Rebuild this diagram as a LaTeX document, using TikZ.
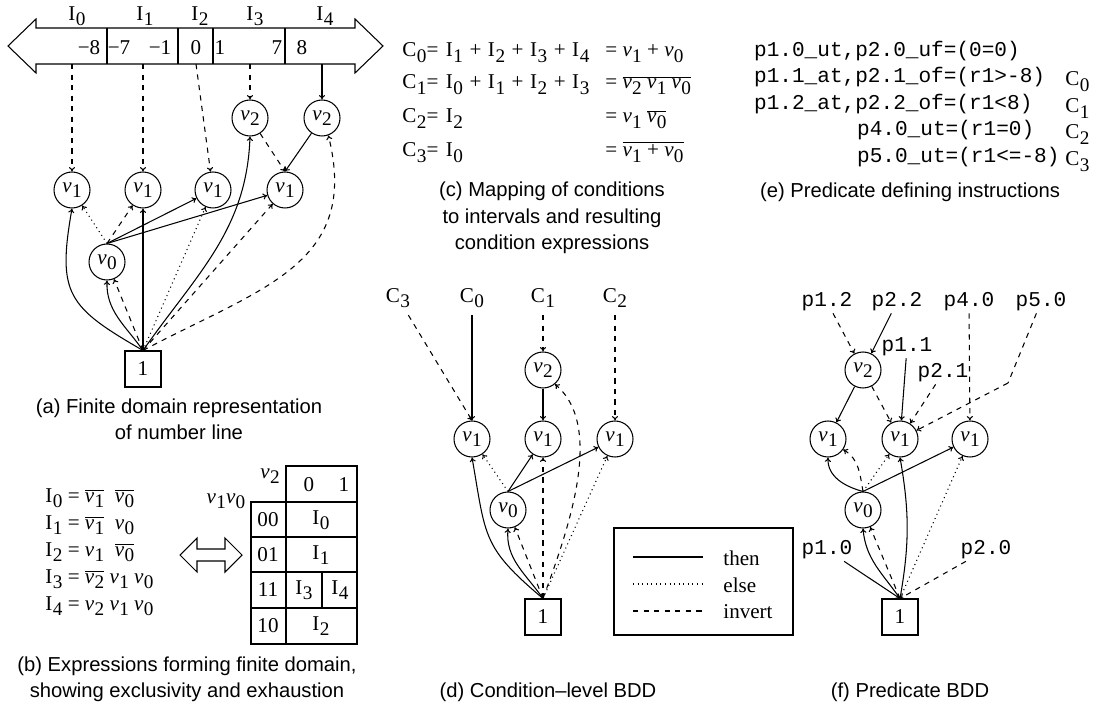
\documentclass[12pt,tikz,border=0pt]{standalone}
\usepackage{fontspec}
\setmainfont{Liberation Serif}
\setsansfont{Liberation Sans}
\setmonofont{Liberation Mono}
\usetikzlibrary{arrows.meta}

\newcommand{\vv}[1]{\textit{v}\kern.2pt\raisebox{-.55ex}{\small #1}}
\newcommand{\Iv}[1]{I\kern.3pt\raisebox{-.55ex}{\small #1}}
\newcommand{\Cv}[1]{C\kern.3pt\raisebox{-.55ex}{\small #1}}
\newcommand{\nb}[1]{\ensuremath{\overline{\mbox{#1}}}}
\newcommand{\plusgap}{\hspace{.31em}+\hspace{.31em}}

\begin{document}
\begin{tikzpicture}[
    x=0.02cm, y=-0.02cm,
    >={To[length=2.5pt,width=3.5pt]},
    var/.style={circle, draw, line width=0.6pt, minimum size=0.72cm, inner sep=0pt},
    term/.style={rectangle, draw, line width=0.6pt, minimum size=0.72cm, inner sep=0pt},
    txt/.style={inner sep=0pt},
    pred/.style={font=\ttfamily, inner sep=1pt},
    capt/.style={font=\sffamily\fontsize{11.5}{15}\selectfont, align=center},
    thenarc/.style={solid},
    elsearc/.style={dotted},
    invarc/.style={dashed},
    every edge/.style={draw, ->, line width=0.6pt}
]
    \useasboundingbox (0,0) rectangle (1104,715);

    % (a) number line
    \draw[line width=0.6pt] (8,46) -- (36,19) -- (36,28) -- (355,28) -- (355,19) -- (383,46)
        -- (355,73) -- (355,64) -- (36,64) -- (36,73) -- cycle;
    \foreach \x in {107,178,213,285} \draw[line width=0.6pt] (\x,28) -- (\x,64);
    \foreach \x/\t in {89/−8,119/−7,160/−1,196/0,220/1,277/7,302/8}
        \node at (\x,48) {\t};
    \foreach \x/\i in {77/0,145/1,200/2,255/3,325/4}
        \node at (\x,16) {\Iv{\i}};
    \coordinate (sa0) at (72,64);
    \coordinate (sa1) at (143,64);
    \coordinate (sa2) at (196,64);
    \coordinate (sa3) at (250,64);
    \coordinate (sa4) at (322,64);

    \node[var] (av2a) at (250,118) {\vv{2}};
    \node[var] (av2b) at (322,118) {\vv{2}};
    \node[var] (av1a) at (72,190) {\vv{1}};
    \node[var] (av1b) at (143,190) {\vv{1}};
    \node[var] (av1c) at (213,190) {\vv{1}};
    \node[var] (av1d) at (285,190) {\vv{1}};
    \node[var] (av0) at (107,262) {\vv{0}};
    \node[term] (aone) at (143,369) {1};

    \path (sa0) edge[invarc] (av1a);
    \path (sa1) edge[invarc] (av1b);
    \path (sa2) edge[invarc] (av1c);
    \path (sa3) edge[invarc] (av2a);
    \path (sa4) edge[thenarc] (av2b);
    \path (av2a) edge[invarc] (av1d.north);
    \path (av2b) edge[thenarc] (av1d.north);
    \path (aone.north) edge[thenarc, out=55, in=-92] (av2a.south);
    \path (aone.north) edge[invarc] (av1d);
    \path (aone.north) edge[invarc, out=28, in=-76, looseness=1.2] (av2b.-70);
    \path (aone.north) edge[thenarc, out=150, in=-100, looseness=1.4] (av1a.south);
    \path (av0.north) edge[elsearc] (av1a);
    \path (av0.north) edge[invarc] (av1b);
    \path (av0.north) edge[thenarc] (av1c);
    \path (av0.north) edge[thenarc] (av1d);
    \path (aone.north) edge[thenarc] (av1b);
    \path (aone.north) edge[elsearc] (av1c);
    \path (aone.north) edge[thenarc, out=125, in=-92] (av0.south);
    \path (aone.north) edge[invarc] (av0);

    \node[capt] (capa) at (179,419) {(a) Finite domain representation\\of number line};

    % (b) expressions and map
    \node[txt, anchor=west] (beq0) at (45,498) {\Iv{0} = \nb{\vv{1}}\ \ \nb{\vv{0}}};
    \node[txt, anchor=west] (beq1) at (45,525) {\Iv{1} = \nb{\vv{1}}\ \ \vv{0}};
    \node[txt, anchor=west] (beq2) at (45,552) {\Iv{2} = \vv{1}\ \ \nb{\vv{0}}};
    \node[txt, anchor=west] (beq3) at (45,579) {\Iv{3} = \nb{\vv{2}}\ \vv{1}\ \vv{0}};
    \node[txt, anchor=west] (beq4) at (45,606) {\Iv{4} = \vv{2}\ \vv{1}\ \vv{0}};

    \draw[line width=0.6pt] (180,555) -- (197,538) -- (197,549) -- (225,549) -- (225,538) -- (242,555)
        -- (225,572) -- (225,561) -- (197,561) -- (197,572) -- cycle;

    \draw[line width=0.8pt] (286,466) rectangle (357,502);
    \draw[line width=0.8pt] (251,502) rectangle (357,644);
    \draw[line width=0.8pt] (286,502) -- (286,644);
    \foreach \y in {537,572,608} \draw[line width=0.8pt] (251,\y) -- (357,\y);
    \draw[line width=0.8pt] (322,572) -- (322,608);
    \node at (309,485) {0};
    \node at (344,485) {1};
    \node at (270,476) {\vv{2}};
    \node at (226,501) {\vv{1}\vv{0}};
    \foreach \y/\r in {520/00,555/01,590/11,626/10} \node at (268,\y) {\r};
    \node at (321,520) {\Iv{0}};
    \node at (321,555) {\Iv{1}};
    \node at (304,590) {\Iv{3}};
    \node at (340,590) {\Iv{4}};
    \node at (321,626) {\Iv{2}};

    \node[capt] (capb) at (187,679) {(b) Expressions forming finite domain,\\showing exclusivity and exhaustion};

    % (c) conditions
    \node[txt, anchor=base west] (ceq0) at (402,57) {\Cv{0}=\hspace{.35em}\Iv{1}\plusgap\Iv{2}\plusgap\Iv{3}\plusgap\Iv{4}};
    \node[txt, anchor=base west] (ceq1) at (402,89) {\Cv{1}=\hspace{.35em}\Iv{0}\plusgap\Iv{1}\plusgap\Iv{2}\plusgap\Iv{3}};
    \node[txt, anchor=base west] (ceq2) at (402,123) {\Cv{2}=\hspace{.35em}\Iv{2}};
    \node[txt, anchor=base west] (ceq3) at (402,157) {\Cv{3}=\hspace{.35em}\Iv{0}};
    \node[txt, anchor=base west] (cex0) at (605,57) {= \vv{1} + \vv{0}};
    \node[txt, anchor=base west] (cex1) at (605,89) {= \nb{\vv{2} \vv{1} \vv{0}}};
    \node[txt, anchor=base west] (cex2) at (605,123) {= \vv{1} \nb{\vv{0}}};
    \node[txt, anchor=base west] (cex3) at (605,157) {= \nb{\vv{1} + \vv{0}}};

    \node[capt] (capc) at (552,218) {(c) Mapping of conditions\\to intervals and resulting\\condition expressions};

    % (d) condition-level BDD
    \node (dC3) at (398,298) {\Cv{3}};
    \node (dC0) at (472,298) {\Cv{0}};
    \node (dC1) at (543,298) {\Cv{1}};
    \node (dC2) at (615,298) {\Cv{2}};
    \node[var] (dv2) at (543,370) {\vv{2}};
    \node[var] (dv1a) at (472,439) {\vv{1}};
    \node[var] (dv1b) at (543,439) {\vv{1}};
    \node[var] (dv1c) at (615,439) {\vv{1}};
    \node[var] (dv0) at (508,510) {\vv{0}};
    \node[term] (done) at (543,617) {1};

    \path (dC3) edge[invarc] (dv1a.north);
    \path (dC0) edge[thenarc] (dv1a);
    \path (dC1) edge[invarc] (dv2);
    \path (dC2) edge[invarc] (dv1c);
    \path (dv2) edge[thenarc] (dv1b);
    \path (done.north) edge[thenarc, out=140, in=-80, looseness=1.3] (dv1a.south);
    \path (dv0.north) edge[elsearc] (dv1a);
    \path (dv0.north) edge[thenarc] (dv1b);
    \path (dv0.north) edge[thenarc] (dv1c);
    \path (done.north) edge[thenarc, out=125, in=-95] (dv0.south);
    \path (done.north) edge[invarc] (dv0);
    \path (done.north) edge[invarc] (dv1b);
    \path (done.north) edge[invarc, out=70, in=-40, looseness=0.8] (dv2.-50);
    \path (done.north) edge[elsearc] (dv1c);

    \node[capt] (capd) at (548,692) {(d) Condition--level BDD};

    % legend
    \draw[line width=0.6pt] (614,528) rectangle (793,635);
    \draw[line width=0.6pt, thenarc] (633,557) -- (703,557);
    \draw[line width=0.6pt, elsearc] (633,584) -- (703,584);
    \draw[line width=0.6pt, invarc] (633,611) -- (703,611);
    \node[anchor=west] (lthen) at (716,558) {then};
    \node[anchor=west] (lelse) at (716,585) {else};
    \node[anchor=west] (linv) at (716,612) {invert};

    % (e) predicate defining instructions
    \node[pred, anchor=base west] (e0) at (752,57) {p1.0\_ut,p2.0\_uf=(0=0)};
    \node[pred, anchor=base west] (e1) at (752,83) {p1.1\_at,p2.1\_of=(r1>-8)};
    \node[pred, anchor=base west] (e2) at (752,110) {p1.2\_at,p2.2\_of=(r1<8)};
    \node[pred, anchor=base west] (e3) at (855,136) {p4.0\_ut=(r1=0)};
    \node[pred, anchor=base west] (e4) at (855,163) {p5.0\_ut=(r1<=-8)};
    \node[txt, anchor=base west] (ec0) at (1065,86) {\Cv{0}};
    \node[txt, anchor=base west] (ec1) at (1065,113) {\Cv{1}};
    \node[txt, anchor=base west] (ec2) at (1065,139) {\Cv{2}};
    \node[txt, anchor=base west] (ec3) at (1065,166) {\Cv{3}};

    \node[capt] (cape) at (910,192) {(e) Predicate defining instructions};

    % (f) predicate BDD
    \node[pred] (p12) at (827,302) {p1.2};
    \node[pred] (p22) at (897,302) {p2.2};
    \node[pred] (p40) at (969,302) {p4.0};
    \node[pred] (p50) at (1041,302) {p5.0};
    \node[pred] (p11) at (907,347) {p1.1};
    \node[pred] (p21) at (943,373) {p2.1};
    \node[pred] (p10) at (827,550) {p1.0};
    \node[pred] (p20) at (986,550) {p2.0};
    \coordinate (fk) at (1008,383);
    \node[var] (fv2) at (863,370) {\vv{2}};
    \node[var] (fv1a) at (828,439) {\vv{1}};
    \node[var] (fv1b) at (900,439) {\vv{1}};
    \node[var] (fv1c) at (970,439) {\vv{1}};
    \node[var] (fv0) at (863,510) {\vv{0}};
    \node[term] (fone) at (900,617) {1};

    \path (p12) edge[invarc] (fv2);
    \path (p22) edge[thenarc] (fv2);
    \path (p40) edge[invarc] (fv1c);
    \draw[invarc, line width=0.6pt] (p50) -- (fk);
    \path (fk) edge[invarc] (fv1b);
    \path (p11) edge[thenarc] (fv1b);
    \path (p21) edge[invarc] (fv1b);
    \path (fv2) edge[thenarc] (fv1a);
    \path (fv2) edge[invarc] (fv1b);
    \path (fv0.north) edge[thenarc, out=165, in=-92] (fv1a.south);
    \path (fv0.north) edge[invarc, out=100, in=-30] (fv1a.-35);
    \path (fv0.north) edge[elsearc] (fv1b);
    \path (fv0.north) edge[thenarc] (fv1c);
    \path (fone.north) edge[thenarc, out=125, in=-85] (fv0.south);
    \path (fone.north) edge[invarc] (fv0);
    \path (fone.north) edge[thenarc, bend right=10] (fv1b.south);
    \path (fone.north) edge[elsearc] (fv1c);
    \path (p10) edge[thenarc] (fone.north);
    \path (p20) edge[invarc] (fone.north);

    \node[capt] (capf) at (910,692) {(f) Predicate BDD};
\end{tikzpicture}
\end{document}
